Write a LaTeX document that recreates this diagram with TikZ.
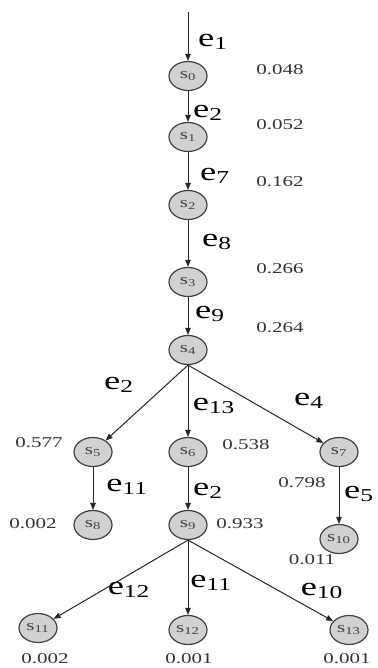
\documentclass[tikz,border=0pt]{standalone}
\usepackage{fontspec}
\setmainfont{Liberation Serif}
\usetikzlibrary{shapes.geometric,arrows.meta}
\newcommand{\hs}[1]{\scalebox{1.4}[1]{#1}}
\begin{document}
\begin{tikzpicture}[x=1pt,y=-1pt,
 st/.style={ellipse,draw=black!75,line width=1.2pt,fill=black!18,minimum width=38pt,minimum height=29pt,inner sep=0pt,text=black!75,font=\fontsize{15}{15}\selectfont},
 el/.style={font=\fontsize{26}{26}\selectfont,inner sep=0pt},
 num/.style={font=\fontsize{15}{15}\selectfont,text=black!80,inner sep=0pt},
 ar/.style={draw=black!85,line width=1pt,-{Triangle[length=7pt,width=5.5pt]}}]
\useasboundingbox (0,0) rectangle (377,668);
\coordinate (top) at (188,12);
\node[st] (s0) at (188,76) {\hs{s\textsubscript{0}}};
\node[st] (s1) at (188,137) {\hs{s\textsubscript{1}}};
\node[st] (s2) at (188,205) {\hs{s\textsubscript{2}}};
\node[st] (s3) at (188,282) {\hs{s\textsubscript{3}}};
\node[st] (s4) at (188,350) {\hs{s\textsubscript{4}}};
\node[st] (s5) at (93,452) {\hs{s\textsubscript{5}}};
\node[st] (s6) at (188,452) {\hs{s\textsubscript{6}}};
\node[st] (s7) at (339,452) {\hs{s\textsubscript{7}}};
\node[st] (s8) at (93,525) {\hs{s\textsubscript{8}}};
\node[st] (s9) at (188,525) {\hs{s\textsubscript{9}}};
\node[st] (s10) at (339,539) {\hs{s\textsubscript{10}}};
\node[st] (s11) at (38,628) {\hs{s\textsubscript{11}}};
\node[st] (s12) at (188,630) {\hs{s\textsubscript{12}}};
\node[st] (s13) at (349,630) {\hs{s\textsubscript{13}}};
\draw[ar] (top) -- (s0);
\draw[ar] (s0) -- (s1);
\draw[ar] (s1) -- (s2);
\draw[ar] (s2) -- (s3);
\draw[ar] (s3) -- (s4);
\draw[ar] (s4.south) -- (s5);
\draw[ar] (s4.south) -- (s6);
\draw[ar] (s4.south) -- (s7);
\draw[ar] (s5) -- (s8);
\draw[ar] (s6) -- (s9);
\draw[ar] (s7) -- (s10);
\draw[ar] (s9.south) -- (s11);
\draw[ar] (s9.south) -- (s12);
\draw[ar] (s9.south) -- (s13);
\node[el] (l1) at (213,42) {\hs{e\textsubscript{1}}};
\node[el] (l2) at (208,113) {\hs{e\textsubscript{2}}};
\node[el] (l3) at (215,176) {\hs{e\textsubscript{7}}};
\node[el] (l4) at (217,242) {\hs{e\textsubscript{8}}};
\node[el] (l5) at (210,314) {\hs{e\textsubscript{9}}};
\node[el] (l6) at (119,385) {\hs{e\textsubscript{2}}};
\node[el] (l7) at (214,406) {\hs{e\textsubscript{13}}};
\node[el] (l8) at (309,401) {\hs{e\textsubscript{4}}};
\node[el] (l9) at (127,487) {\hs{e\textsubscript{11}}};
\node[el] (l10) at (208,491) {\hs{e\textsubscript{2}}};
\node[el] (l11) at (359,494) {\hs{e\textsubscript{5}}};
\node[el] (l12) at (129,590) {\hs{e\textsubscript{12}}};
\node[el] (l13) at (211,583) {\hs{e\textsubscript{11}}};
\node[el] (l14) at (322,591) {\hs{e\textsubscript{10}}};
\node[num] (n0) at (280,70) {\hs{0.048}};
\node[num] (n1) at (280,125) {\hs{0.052}};
\node[num] (n2) at (280,182) {\hs{0.162}};
\node[num] (n3) at (280,269) {\hs{0.266}};
\node[num] (n4) at (280,328) {\hs{0.264}};
\node[num] (n5) at (39,443) {\hs{0.577}};
\node[num] (n6) at (246,445) {\hs{0.538}};
\node[num] (n7) at (302,483) {\hs{0.798}};
\node[num] (n8) at (33,524) {\hs{0.002}};
\node[num] (n9) at (240,524) {\hs{0.933}};
\node[num] (n10) at (312,560) {\hs{0.011}};
\node[num] (n11) at (45,659) {\hs{0.002}};
\node[num] (n12) at (189,659) {\hs{0.001}};
\node[num] (n13) at (347,659) {\hs{0.001}};
\end{tikzpicture}
\end{document}
